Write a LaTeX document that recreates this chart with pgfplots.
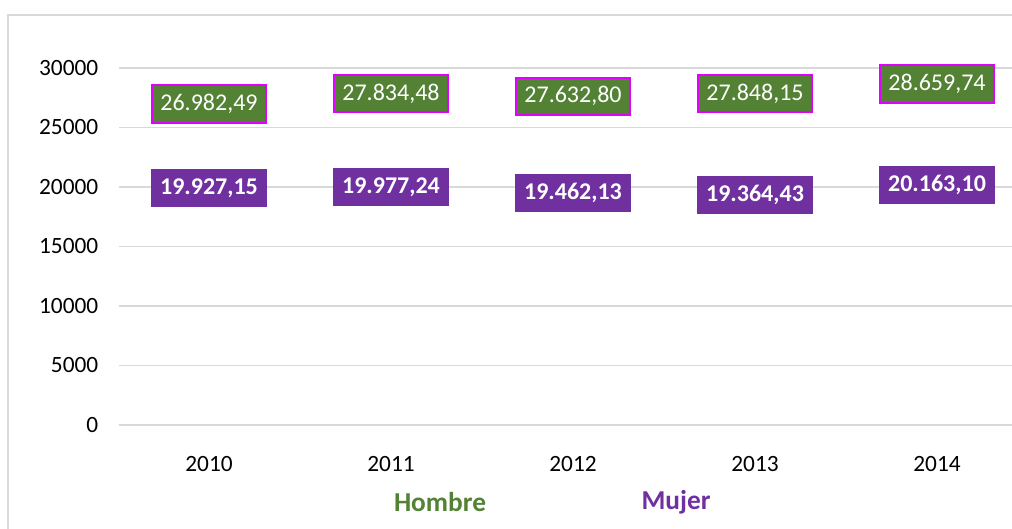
\documentclass[border=0pt]{standalone}
\usepackage{pgfplots}
\pgfplotsset{compat=1.18}
\usepackage{pgfplotstable}
\usepackage{fontspec}
\setmainfont{Carlito}
\definecolor{hgreen}{HTML}{548235}
\definecolor{mpurple}{HTML}{7030A0}
\definecolor{magborder}{HTML}{E100FF}
\definecolor{gridgray}{HTML}{D9D9D9}
\pgfplotstableread{
x y label
0 26982.49 26.982,49
1 27834.48 27.834,48
2 27632.80 27.632,80
3 27848.15 27.848,15
4 28659.74 28.659,74
}\hombre
\pgfplotstableread{
x y label
0 19927.15 19.927,15
1 19977.24 19.977,24
2 19462.13 19.462,13
3 19364.43 19.364,43
4 20163.10 20.163,10
}\mujer
\begin{document}
\begin{tikzpicture}
\useasboundingbox (-89.25pt,-77.25pt) rectangle (669.75pt,318.75pt);
\draw[gridgray, line width=1.2pt] (-83.25pt,-200pt) rectangle (800pt,307.5pt);
\begin{axis}[
  at={(0,0)}, anchor=south west,
  scale only axis, width=669.75pt, height=267.75pt,
  xmin=-0.4945, xmax=4.412, ymin=0, ymax=30000,
  xtick={0,1,2,3,4}, xticklabels={2010,2011,2012,2013,2014},
  ytick={0,5000,10000,15000,20000,25000,30000},
  /pgf/number format/assume math mode=true,
  /pgf/number format/set thousands separator={},
  scaled y ticks=false,
  ymajorgrids, major grid style={gridgray, line width=1.2pt},
  axis x line*=bottom, axis y line*=left,
  x axis line style={gridgray, line width=1.5pt, -},
  y axis line style={draw=none},
  major tick length=0pt,
  tick label style={font=\fontsize{17.5}{20}\selectfont, text=black},
  xticklabel style={yshift=-20pt},
  yticklabel style={xshift=-12pt},
  clip=false,
]
\addplot[draw=none, mark=none, point meta=explicit symbolic,
  nodes near coords,
  every node near coord/.append style={anchor=center, fill=hgreen, draw=magborder, line width=1.5pt,
    text=white, font=\fontsize{18}{20}\selectfont, inner xsep=6.5pt, inner ysep=0pt,
    minimum height=28pt}]
  table[x=x, y=y, meta=label] {\hombre};
\addplot[draw=none, mark=none, point meta=explicit symbolic,
  nodes near coords,
  every node near coord/.append style={anchor=center, fill=mpurple, draw=none,
    text=white, font=\bfseries\fontsize{18}{20}\selectfont, inner xsep=7pt, inner ysep=0pt,
    minimum height=28.5pt}]
  table[x=x, y=y, meta=label] {\mujer};
\end{axis}
\node[font=\bfseries\fontsize{20.5}{22}\selectfont, text=hgreen] at (240.75pt,-57.75pt) {Hombre};
\node[font=\bfseries\fontsize{20.5}{22}\selectfont, text=mpurple] at (417.75pt,-57.75pt) {Mujer};
\end{tikzpicture}
\end{document}
